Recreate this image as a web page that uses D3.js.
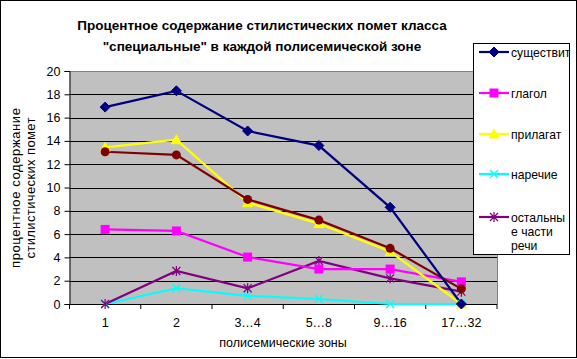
<!DOCTYPE html>
<html><head><meta charset="utf-8">
<script src="https://cdn.jsdelivr.net/npm/d3@7/dist/d3.min.js"></script>
<style>body{margin:0;background:#fff}svg{display:block;font-family:Arial,"Liberation Sans",sans-serif}</style>
</head><body><svg id="c" width="577" height="359"></svg>
<script>
const categories = ["1","2","3…4","5…8","9…16","17…32"];
const seriesNames = ["существит","глагол","прилагат","наречие","остальные части речи","прочие"];
const sushch = [16.9,18.3,14.85,13.6,8.3,0];
const glagol = [6.4,6.27,4.03,3.0,3.0,1.9];
const prilag = [13.45,14.1,8.7,6.9,4.5,0];
const narech = [0,1.35,0.7,0.43,0,0];
const ostal = [0,2.83,1.35,3.7,2.2,1.06];
const other = [13.07,12.8,8.98,7.2,4.78,1.3];
const yTicks = [0,2,4,6,8,10,12,14,16,18,20];

const svg = d3.select("#c");
svg.append("rect").attr("x",0.5).attr("y",0.5).attr("width",576).attr("height",357).attr("fill","#fff").attr("stroke","#000");

const L=69.5, R=497, T=71, B=304;
const x = d3.scaleBand().domain(categories).range([L,R]);
const y = d3.scaleLinear().domain([0,20]).range([B,T]);

svg.append("rect").attr("x",L).attr("y",T).attr("width",R-L).attr("height",B-T).attr("fill","#C0C0C0");
svg.append("line").attr("x1",L).attr("x2",R).attr("y1",T+0.5).attr("y2",T+0.5).attr("stroke","#808080");
svg.append("line").attr("x1",R+0.5).attr("x2",R+0.5).attr("y1",T).attr("y2",B).attr("stroke","#808080");
svg.append("g").selectAll("line").data(yTicks.filter(d=>d>0&&d<20)).join("line")
  .attr("x1",L).attr("x2",R).attr("y1",d=>Math.round(y(d))+0.5).attr("y2",d=>Math.round(y(d))+0.5).attr("stroke","#000");

// axes
const yAx = svg.append("g").attr("transform",`translate(${L},0)`)
  .call(d3.axisLeft(y).tickValues(yTicks).tickSize(5).tickPadding(4).tickFormat(d3.format("d")));
yAx.select(".domain").attr("stroke","#000");
yAx.selectAll("text").attr("font-size",12.5).attr("fill","#000").attr("font-family","Arial, Liberation Sans");

const xAx = svg.append("g").attr("transform",`translate(0,${B})`)
  .call(d3.axisBottom(x).tickSize(0).tickPadding(14));
xAx.select(".domain").attr("stroke","#000").attr("d",`M${L},0.5H${R}`);
xAx.selectAll("text").attr("font-size",12.5).attr("fill","#000").attr("font-family","Arial, Liberation Sans");
const bounds = categories.map(c=>x(c)).concat([R]);
xAx.append("g").selectAll("line").data(bounds).join("line")
  .attr("x1",d=>d).attr("x2",d=>d).attr("y1",0).attr("y2",5).attr("stroke","#000");

const cx = c=>x(c)+x.bandwidth()/2;
const data = [
  {name:seriesNames[0], vals:sushch, color:"#000080", marker:"diamond"},
  {name:seriesNames[1], vals:glagol, color:"#FF00FF", marker:"square"},
  {name:seriesNames[2], vals:prilag, color:"#FFFF00", marker:"triangle"},
  {name:seriesNames[3], vals:narech, color:"#00FFFF", marker:"x"},
  {name:seriesNames[4], vals:ostal, color:"#800080", marker:"star"},
  {name:seriesNames[5], vals:other, color:"#800000", marker:"circle"}
];
function drawMarker(g, type, color){
  if(type==="diamond") g.append("path").attr("d","M0,-5L5,0L0,5L-5,0Z").attr("fill",color).attr("stroke",color);
  else if(type==="square") g.append("rect").attr("x",-4.5).attr("y",-4.5).attr("width",9).attr("height",9).attr("fill",color);
  else if(type==="triangle") g.append("path").attr("d","M0,-5L5,4L-5,4Z").attr("fill",color).attr("stroke",color);
  else if(type==="x") g.append("path").attr("d","M-4,-4L4,4M-4,4L4,-4").attr("stroke",color).attr("stroke-width",1.2);
  else if(type==="star") g.append("path").attr("d","M-4,-4L4,4M-4,4L4,-4M0,-5V5").attr("stroke",color).attr("stroke-width",1.2);
  else if(type==="circle") g.append("circle").attr("r",4.5).attr("fill",color);
}
const line = d3.line().x((d,i)=>cx(categories[i])).y(d=>y(d));
const order = [3,4,1,2,5,0];
order.forEach(k=>{
  const s=data[k];
  svg.append("path").attr("d",line(s.vals)).attr("fill","none").attr("stroke",s.color).attr("stroke-width",2.2);
});
order.forEach(k=>{
  const s=data[k];
  s.vals.forEach((v,i)=>{
    const g=svg.append("g").attr("transform",`translate(${cx(categories[i])},${y(v)})`);
    drawMarker(g,s.marker,s.color);
  });
});

// titles
const title = svg.append("text").attr("text-anchor","middle").attr("font-size",13.5).attr("font-weight","bold").attr("fill","#000");
title.append("tspan").attr("x",262).attr("y",30).text("Процентное содержание стилистических помет класса");
title.append("tspan").attr("x",262).attr("y",51).text("\"специальные\" в каждой полисемической зоне");

const yt = svg.append("g").attr("transform","translate(0,188) rotate(-90)");
yt.append("text").attr("text-anchor","middle").attr("font-size",13).attr("fill","#000")
  .attr("x",0).attr("y",20).attr("textLength",160).attr("lengthAdjust","spacing").text("процентное содержание");
yt.append("text").attr("text-anchor","middle").attr("font-size",13).attr("fill","#000")
  .attr("x",0).attr("y",35).attr("textLength",141).attr("lengthAdjust","spacing").text("стилистических помет");

svg.append("text").attr("x",283).attr("y",347).attr("text-anchor","middle").attr("font-size",12.5).attr("fill","#000").text("полисемические зоны");

// legend
svg.append("rect").attr("x",473.5).attr("y",43.5).attr("width",96).attr("height",211).attr("fill","#fff").attr("stroke","#000");
const legY=[52,93,134,174,217];
data.slice(0,5).forEach((s,i)=>{
  const g=svg.append("g").attr("transform",`translate(0,${legY[i]})`);
  g.append("line").attr("x1",479).attr("x2",509).attr("y1",0).attr("y2",0).attr("stroke",s.color).attr("stroke-width",2.2);
  const m=g.append("g").attr("transform","translate(494,0)");
  drawMarker(m,s.marker,s.color);
  const t=g.append("text").attr("x",511).attr("y",4.5).attr("font-size",12.2).attr("fill","#000");
  if(i===4){
    t.append("tspan").attr("x",511).attr("dy",0).text("остальны");
    t.append("tspan").attr("x",511).attr("dy",14).text("е части");
    t.append("tspan").attr("x",511).attr("dy",14).text("речи");
  } else t.text(s.name);
});
</script></body></html>
